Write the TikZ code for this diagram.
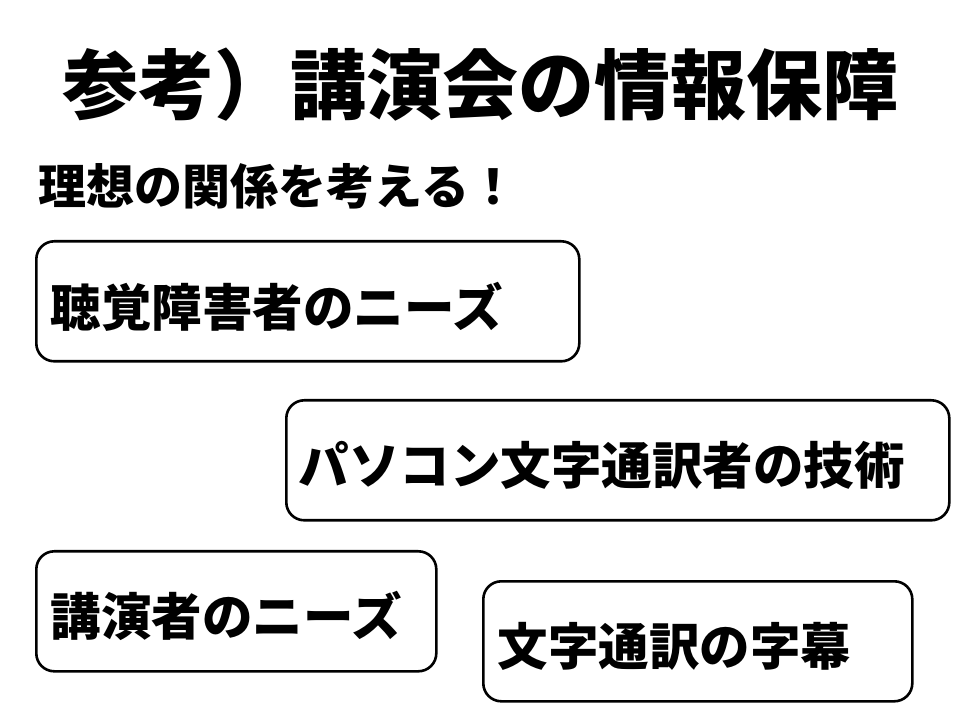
\documentclass[tikz,border=0pt]{standalone}
\usepackage{fontspec}
\newfontfamily\cjk{Noto Sans CJK JP}[BoldFont={Noto Sans CJK JP Black}]
\usepackage{tikz}
\usetikzlibrary{positioning,calc}

\begin{document}
\begin{tikzpicture}[x=1pt,y=1pt,
  font=\cjk\bfseries,
  box/.style={draw,line width=2.6pt,rounded corners=18pt,anchor=north west,
    minimum height=120pt,inner sep=0pt,align=left},
  boxtext/.style={font=\cjk\bfseries\fontsize{50.5}{50.5}\selectfont}]
\useasboundingbox (0,0) rectangle (960,720);
\node (title) at (480,635) {\fontsize{76}{76}\selectfont 参考）講演会の情報保障};
\node (sub) at (35,534) [anchor=west] {\fontsize{48}{48}\selectfont 理想の関係を考える！};

\node (need1) at (35,480) [box,minimum width=543pt] {};
\node (t1) at (47,413) [anchor=west,boxtext] {聴覚障害者のニーズ};
\node (tech) at (285,321) [box,minimum width=663pt] {};
\node (t2) at (295,255) [anchor=west,boxtext] {パソコン文字通訳者の技術};
\node (need2) at (35,170) [box,minimum width=400pt] {};
\node (t3) at (47,104) [anchor=west,boxtext] {講演者のニーズ};
\node (subt) at (482,140) [box,minimum width=429pt] {};
\node (t4) at (494,74) [anchor=west,boxtext] {文字通訳の字幕};
\end{tikzpicture}
\end{document}
